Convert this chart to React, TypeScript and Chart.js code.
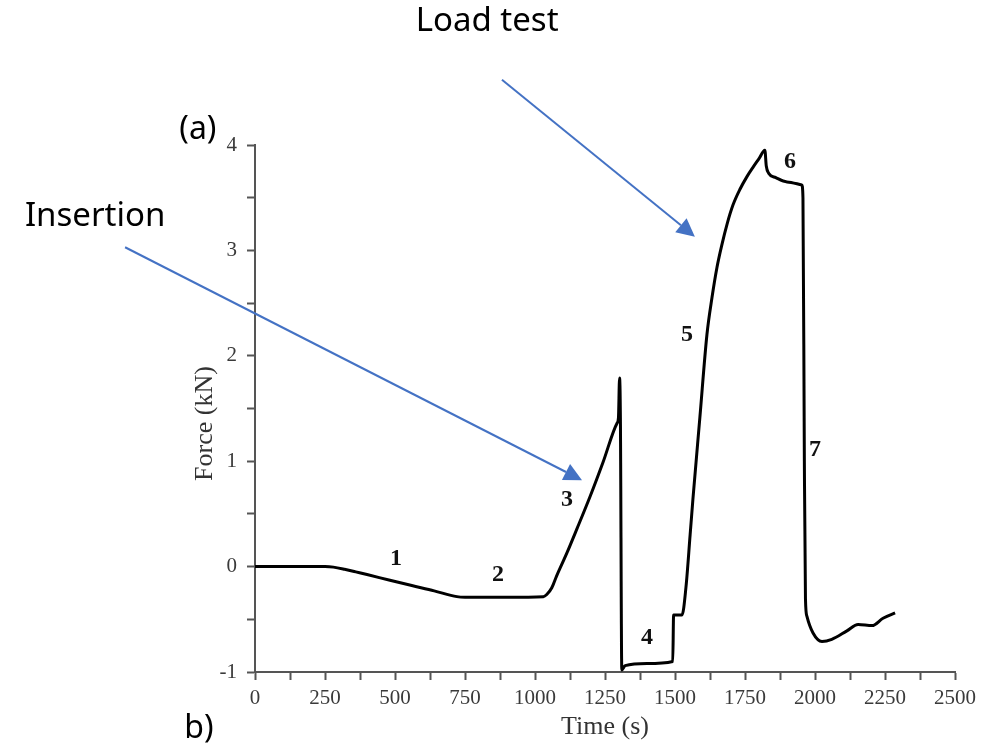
import React, { useEffect, useRef } from 'react';
import { Chart, registerables } from 'chart.js';
Chart.register(...registerables);

const timeS = [0, 100, 200, 250, 280, 320, 360, 400, 482, 560, 640, 721, 750, 900, 1030, 1042, 1060, 1077, 1114, 1150, 1196, 1243, 1293, 1298, 1302, 1305, 1310, 1322, 1400, 1492, 1495, 1525, 1539, 1554, 1564, 1589, 1614, 1632, 1650, 1668, 1686, 1707, 1732, 1757, 1779, 1800, 1821, 1826, 1835, 1860, 1900, 1953, 1957, 1962, 1966, 1971, 1993, 2025, 2060, 2114, 2154, 2204, 2243, 2286];
const forceKN = [0, 0, 0, 0, -0.005, -0.025, -0.05, -0.075, -0.13, -0.18, -0.23, -0.285, -0.29, -0.29, -0.285, -0.265, -0.2, -0.09, 0.13, 0.36, 0.66, 0.99, 1.36, 1.41, 1.79, 1.41, -0.98, -0.94, -0.92, -0.9, -0.46, -0.46, -0.2, 0.3, 0.64, 1.42, 2.2, 2.55, 2.84, 3.06, 3.25, 3.43, 3.58, 3.7, 3.79, 3.87, 3.95, 3.8, 3.73, 3.69, 3.65, 3.62, 3.5, 1.0, -0.31, -0.47, -0.63, -0.71, -0.69, -0.61, -0.55, -0.56, -0.49, -0.44];

const xMin = 0;
const xMax = 2500;
const xStep = 125;
const xLabelStep = 250;
const yMin = -1;
const yMax = 4;
const yStep = 0.5;

const stageLabels = ['1', '2', '3', '4', '5', '6', '7'];
const stageT = [504, 868, 1114, 1400, 1543, 1911, 2000];
const stageF = [0.076, -0.076, 0.635, -0.673, 2.2, 3.84, 1.11];

const xTitle = 'Time (s)';
const yTitle = 'Force (kN)';

// annotation callouts (in data units)
const calloutTexts = ['Load test', 'Insertion'];
const calloutTextT = [829, -571];
const calloutTextF = [5.17, 3.32];
const arrowFromT = [882, -464];
const arrowFromF = [4.62, 3.03];
const arrowToT = [1571, 1168];
const arrowToF = [3.13, 0.82];

const panelLabels = ['(a)', 'b)'];
const panelT = [-204, -200];
const panelF = [4.14, -1.54];

export default function App() {
  const ref = useRef<HTMLCanvasElement>(null);
  useEffect(() => {
    const annot = {
      id: 'annot',
      afterDraw(chart: any) {
        const { ctx, chartArea } = chart;
        const xs = chart.scales.x;
        const ys = chart.scales.y;
        const px = (t: number) => xs.getPixelForValue(t);
        const py = (f: number) => ys.getPixelForValue(f);
        ctx.save();
        // stage numbers
        ctx.fillStyle = '#111';
        ctx.font = 'bold 24px "Liberation Serif"';
        ctx.textAlign = 'center';
        ctx.textBaseline = 'middle';
        stageLabels.forEach((s, i) => ctx.fillText(s, px(stageT[i]), py(stageF[i])));
        // axis titles
        ctx.fillStyle = '#333';
        ctx.font = '26px "Liberation Serif"';
        ctx.fillText(xTitle, (chartArea.left + chartArea.right) / 2, chartArea.bottom + 55);
        ctx.save();
        ctx.translate(chartArea.left - 50, (chartArea.top + chartArea.bottom) / 2 + 15);
        ctx.rotate(-Math.PI / 2);
        ctx.fillText(yTitle, 0, 0);
        ctx.restore();
        // panel labels
        ctx.fillStyle = '#000';
        ctx.font = '32px "Noto Sans"';
        panelLabels.forEach((s, i) => ctx.fillText(s, px(panelT[i]), py(panelF[i])));
        // callouts
        ctx.font = '33px "Noto Sans"';
        calloutTexts.forEach((s, i) => ctx.fillText(s, px(calloutTextT[i]), py(calloutTextF[i])));
        ctx.strokeStyle = '#4472C4';
        ctx.fillStyle = '#4472C4';
        ctx.lineWidth = 2;
        arrowFromT.forEach((_, i) => {
          const x1 = px(arrowFromT[i]);
          const y1 = py(arrowFromF[i]);
          const x2 = px(arrowToT[i]);
          const y2 = py(arrowToF[i]);
          const ang = Math.atan2(y2 - y1, x2 - x1);
          const hl = 18;
          const hw = 9;
          const bx = x2 - hl * Math.cos(ang);
          const by = y2 - hl * Math.sin(ang);
          ctx.beginPath();
          ctx.moveTo(x1, y1);
          ctx.lineTo(bx, by);
          ctx.stroke();
          ctx.beginPath();
          ctx.moveTo(x2, y2);
          ctx.lineTo(bx + hw * Math.sin(ang), by - hw * Math.cos(ang));
          ctx.lineTo(bx - hw * Math.sin(ang), by + hw * Math.cos(ang));
          ctx.closePath();
          ctx.fill();
        });
        ctx.restore();
      },
    };
    const chart = new Chart(ref.current!, {
      type: 'line',
      data: {
        datasets: [
          {
            data: timeS.map((t, i) => ({ x: t, y: forceKN[i] })),
            borderColor: '#000',
            borderWidth: 3,
            pointRadius: 0,
            cubicInterpolationMode: 'monotone',
            fill: false,
          },
        ],
      },
      options: {
        animation: false,
        responsive: false,
        layout: { padding: { left: 0, top: 145, right: 50, bottom: 0 } },
        plugins: { legend: { display: false }, tooltip: { enabled: false } },
        scales: {
          x: {
            type: 'linear',
            min: xMin,
            max: xMax,
            afterFit: (s: any) => { s.height = 73; },
            ticks: {
              stepSize: xStep,
              autoSkip: false,
              maxRotation: 0,
              padding: 6,
              color: '#3a3a3a',
              font: { family: '"Liberation Serif"', size: 21 },
              callback: (v: any) => (Number(v) % xLabelStep === 0 ? String(v) : ''),
            },
            grid: { drawOnChartArea: false, tickLength: 8, tickColor: '#555', tickWidth: 2 },
            border: { color: '#555', width: 2 },
          },
          y: {
            min: yMin,
            max: yMax,
            afterFit: (s: any) => { s.width = 255; },
            ticks: {
              stepSize: yStep,
              autoSkip: false,
              padding: 10,
              color: '#3a3a3a',
              font: { family: '"Liberation Serif"', size: 21 },
              callback: (v: any) => (Number.isInteger(Number(v)) ? String(v) : ''),
            },
            grid: { drawOnChartArea: false, tickLength: 8, tickColor: '#555', tickWidth: 2 },
            border: { color: '#555', width: 2 },
          },
        },
      },
      plugins: [annot],
    } as any);
    return () => chart.destroy();
  }, []);
  return (
    <div style={{ position: 'fixed', left: 0, top: 0, width: 1005, height: 745, background: '#fff' }}>
      <canvas ref={ref} width={1005} height={745} style={{ display: 'block' }} />
    </div>
  );
}
